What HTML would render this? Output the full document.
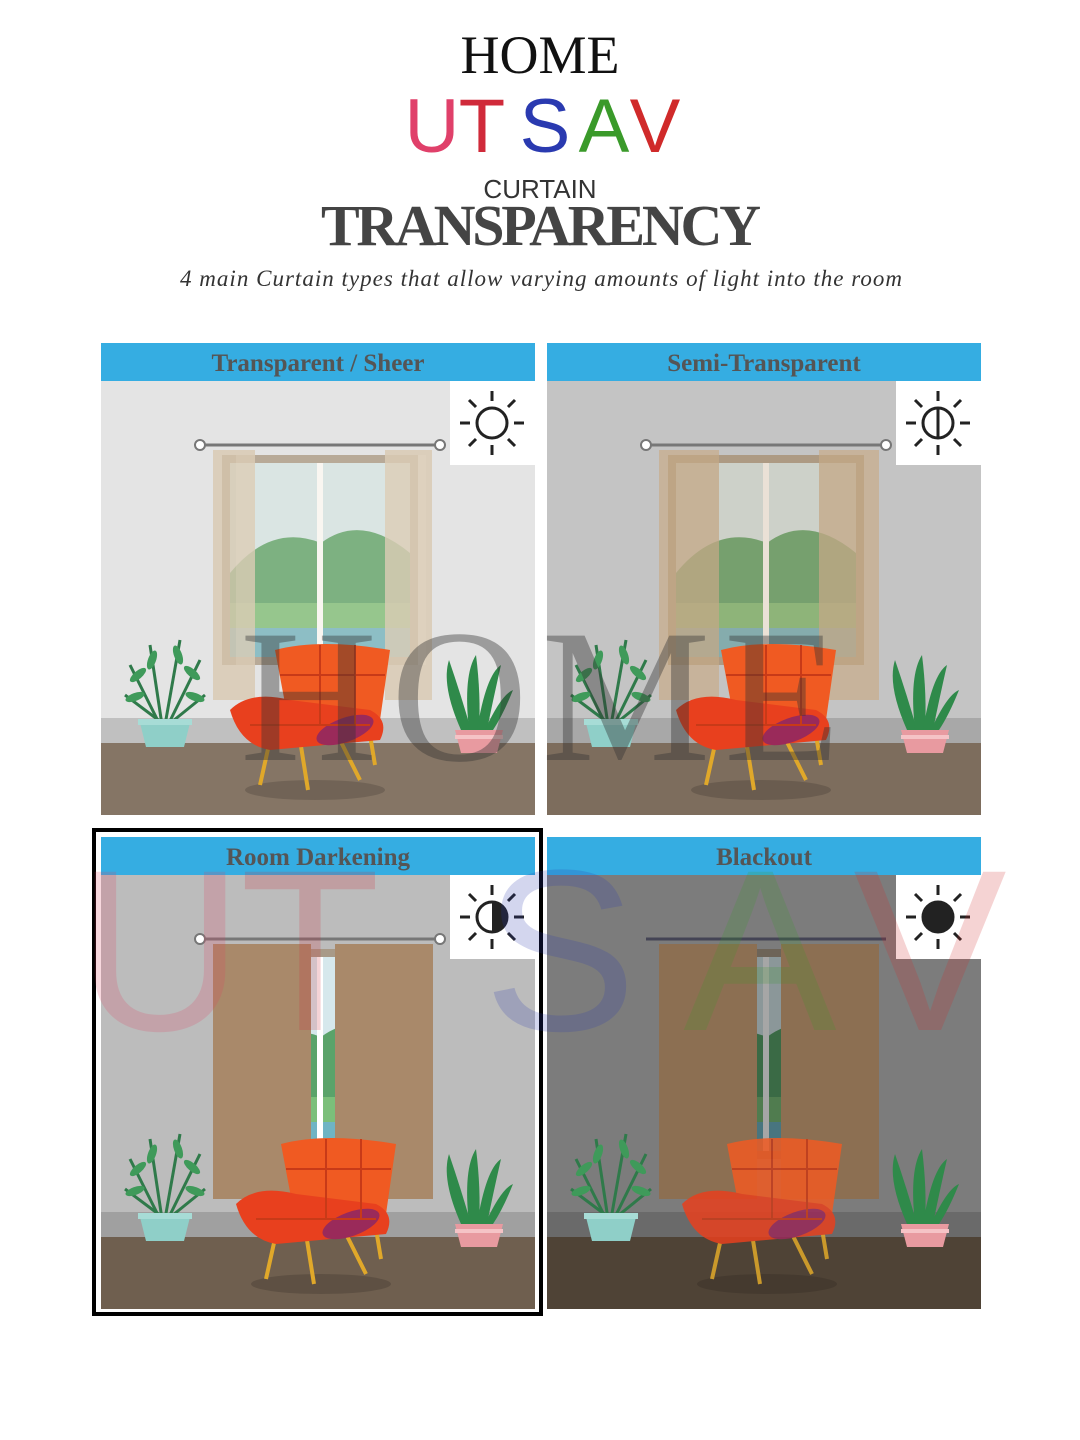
<!DOCTYPE html>
<html><head><meta charset="utf-8"><style>
html,body{margin:0;padding:0;background:#fff;}
body{width:1080px;height:1440px;overflow:hidden;position:relative;}
svg{position:absolute;left:0;top:0;}
</style></head><body>
<svg width="1080" height="1440" viewBox="0 0 1080 1440" xmlns="http://www.w3.org/2000/svg">
<defs>
<g id="plantL">
  <g stroke="#2f7a4a" stroke-width="3" fill="none">
    <path d="M40 90 L10 30"/><path d="M42 90 L30 10"/><path d="M45 90 L60 5"/><path d="M48 90 L80 25"/><path d="M45 90 L5 60"/><path d="M48 90 L85 60"/>
  </g>
  <g fill="#3f9a5a">
    <ellipse cx="18" cy="40" rx="10" ry="4" transform="rotate(-40 18 40)"/><ellipse cx="32" cy="25" rx="10" ry="4" transform="rotate(-70 32 25)"/>
    <ellipse cx="58" cy="20" rx="10" ry="4" transform="rotate(70 58 20)"/><ellipse cx="72" cy="38" rx="10" ry="4" transform="rotate(40 72 38)"/>
    <ellipse cx="15" cy="62" rx="10" ry="4" transform="rotate(-20 15 62)"/><ellipse cx="75" cy="62" rx="10" ry="4" transform="rotate(20 75 62)"/>
  </g>
  <path d="M20 88 H70 L64 112 H26 Z" fill="#8fcfc8"/>
  <rect x="18" y="84" width="54" height="6" fill="#a7dcd6"/>
</g>
<g id="plantR">
  <g fill="#2f8a4a">
    <path d="M20 75 Q0 30 8 5 Q20 40 30 75Z"/><path d="M28 75 Q22 20 35 0 Q40 40 38 75Z"/>
    <path d="M36 75 Q45 20 60 10 Q52 45 46 75Z"/><path d="M44 75 Q60 40 72 35 Q62 60 52 75Z"/>
  </g>
  <path d="M14 75 H62 L56 98 H20 Z" fill="#e89aa0"/>
  <rect x="14" y="80" width="48" height="4" fill="#f5c3c6"/>
</g>
<g id="chair">
  <ellipse cx="85" cy="150" rx="70" ry="10" fill="#000" opacity="0.15"/>
  <g stroke="#e0a82a" stroke-width="4"><line x1="40" y1="100" x2="30" y2="145"/><line x1="70" y1="100" x2="78" y2="150"/><line x1="110" y1="100" x2="130" y2="140"/><line x1="140" y1="95" x2="145" y2="125"/></g>
  <path d="M45 10 Q90 -2 160 10 L150 80 Q130 100 120 95 L60 90 Z" fill="#f05a22"/>
  <path d="M0 70 Q20 50 60 60 L140 70 Q160 80 150 100 L40 110 Q10 105 0 70Z" fill="#e8401e"/>
  <ellipse cx="115" cy="90" rx="30" ry="12" fill="#9a2a5a" transform="rotate(-20 115 90)"/>
  <g stroke="#c83a18" stroke-width="2" fill="none"><path d="M50 35 H155"/><path d="M90 5 V85"/><path d="M125 5 V85"/><path d="M20 85 H140"/></g>
</g>
<g id="scene">
  <rect x="121" y="112" width="196" height="210" fill="#a89a88"/>
  <rect x="129" y="120" width="180" height="194" fill="#d6e8ec"/>
  <path d="M129 230 Q170 180 220 200 Q260 170 309 210 V314 H129Z" fill="#5aa36a"/>
  <rect x="129" y="260" width="180" height="54" fill="#7bbf7a"/>
  <rect x="129" y="285" width="180" height="29" fill="#6fb4c4"/>
  <rect x="216" y="120" width="6" height="194" fill="#fff"/>
</g>
<g id="sun"><circle cx="0" cy="0" r="15" fill="none" stroke="#222" stroke-width="3"/>
 <g stroke="#222" stroke-width="3"><line x1="0" y1="-22" x2="0" y2="-32"/><line x1="0" y1="22" x2="0" y2="32"/><line x1="-22" y1="0" x2="-32" y2="0"/><line x1="22" y1="0" x2="32" y2="0"/><line x1="16" y1="16" x2="23" y2="23"/><line x1="-16" y1="-16" x2="-23" y2="-23"/><line x1="16" y1="-16" x2="23" y2="-23"/><line x1="-16" y1="16" x2="-23" y2="23"/></g></g>
</defs>

<text x="540" y="73" text-anchor="middle" font-family="Liberation Serif,serif" font-size="54" fill="#111">HOME</text>
<g font-family="Liberation Sans,sans-serif" font-size="76" text-anchor="middle">
<text x="432" y="152" fill="#e0406a">U</text><text x="482" y="152" fill="#d02a3a">T</text><text x="545" y="152" fill="#2a3ab0">S</text><text x="604" y="152" fill="#3a9a2a">A</text><text x="655" y="152" fill="#d02a2a">V</text></g>
<text x="540" y="198" text-anchor="middle" font-family="Liberation Sans,sans-serif" font-size="26" fill="#333">CURTAIN</text>
<text x="541" y="245" text-anchor="middle" font-family="Liberation Serif,serif" font-weight="bold" font-size="58" fill="#444" textLength="440">TRANSPARENCY</text>
<text x="541" y="286" text-anchor="middle" font-family="Liberation Serif,serif" font-style="italic" font-size="23" fill="#333" textLength="722">4 main Curtain types that allow varying amounts of light into the room</text>

<!-- Panel 1 -->
<g transform="translate(101,343)">
 <rect width="434" height="472" fill="#e4e4e4"/>
 <rect y="375" width="434" height="27" fill="#c0c0c0"/><rect y="400" width="434" height="72" fill="#857565"/>
 <use href="#scene"/>
 <rect x="112" y="107" width="42" height="250" fill="#d8c8b0" opacity="0.8"/><rect x="284" y="107" width="47" height="250" fill="#d8c8b0" opacity="0.8"/>
 <rect x="135" y="112" width="190" height="210" fill="#e8dcc8" opacity="0.25"/>
 <line x1="99" y1="102" x2="339" y2="102" stroke="#777" stroke-width="3"/><circle cx="99" cy="102" r="5" fill="#fff" stroke="#777" stroke-width="2"/><circle cx="339" cy="102" r="5" fill="#fff" stroke="#777" stroke-width="2"/>
 <use href="#chair" transform="translate(129,297)"/>
 <use href="#plantL" transform="translate(19,292)"/><use href="#plantR" transform="translate(340,312)"/>
 <rect width="434" height="38" fill="#35ade2"/>
 <rect x="349" y="38" width="85" height="84" fill="#fff"/><use href="#sun" transform="translate(391,80)"/>
</g>
<!-- Panel 2 -->
<g transform="translate(547,343)">
 <rect width="434" height="472" fill="#c4c4c4"/>
 <rect y="375" width="434" height="27" fill="#a8a8a8"/><rect y="400" width="434" height="72" fill="#7d6d5d"/>
 <use href="#scene"/>
 <rect x="112" y="107" width="60" height="250" fill="#c8ae8e" opacity="0.75"/><rect x="272" y="107" width="60" height="250" fill="#c8ae8e" opacity="0.75"/>
 <rect x="121" y="112" width="196" height="210" fill="#b89a78" opacity="0.3"/>
 <line x1="99" y1="102" x2="339" y2="102" stroke="#777" stroke-width="3"/><circle cx="99" cy="102" r="5" fill="#fff" stroke="#777" stroke-width="2"/><circle cx="339" cy="102" r="5" fill="#fff" stroke="#777" stroke-width="2"/>
 <use href="#chair" transform="translate(129,297)"/>
 <use href="#plantL" transform="translate(19,292)"/><use href="#plantR" transform="translate(340,312)"/>
 <rect width="434" height="38" fill="#35ade2"/>
 <rect x="349" y="38" width="85" height="84" fill="#fff"/><use href="#sun" transform="translate(391,80)"/><line x1="391" y1="65" x2="391" y2="95" stroke="#222" stroke-width="3"/>
</g>
<!-- Panel 3 -->
<g transform="translate(101,837)">
 <rect width="434" height="472" fill="#bcbcbc"/>
 <rect y="375" width="434" height="27" fill="#a0a0a0"/><rect y="400" width="434" height="72" fill="#6f5f4f"/>
 <use href="#scene"/>
 <rect x="112" y="107" width="98" height="255" fill="#a9896a"/><rect x="234" y="107" width="98" height="255" fill="#a9896a"/>
 <line x1="99" y1="102" x2="339" y2="102" stroke="#777" stroke-width="3"/><circle cx="99" cy="102" r="5" fill="#fff" stroke="#777" stroke-width="2"/><circle cx="339" cy="102" r="5" fill="#fff" stroke="#777" stroke-width="2"/>
 <use href="#chair" transform="translate(135,297)"/>
 <use href="#plantL" transform="translate(19,292)"/><use href="#plantR" transform="translate(340,312)"/>
 <rect width="434" height="38" fill="#35ade2"/>
 <rect x="349" y="38" width="85" height="84" fill="#fff"/><use href="#sun" transform="translate(391,80)"/><path d="M391 65 A15 15 0 0 1 391 95Z" fill="#222"/>
</g>
<!-- Panel 4 -->
<g transform="translate(547,837)">
 <rect width="434" height="472" fill="#7c7c7c"/>
 <rect y="375" width="434" height="27" fill="#6a6a6a"/><rect y="400" width="434" height="72" fill="#4f4336"/>
 <use href="#scene"/>
 <rect x="121" y="112" width="196" height="210" fill="#000" opacity="0.35"/>
 <rect x="112" y="107" width="98" height="255" fill="#8c6f52"/><rect x="234" y="107" width="98" height="255" fill="#8c6f52"/>
 <line x1="99" y1="102" x2="339" y2="102" stroke="#445" stroke-width="3"/>
 <use href="#chair" transform="translate(135,297)" opacity="0.85"/>
 <use href="#plantL" transform="translate(19,292)"/><use href="#plantR" transform="translate(340,312)"/>
 <rect width="434" height="38" fill="#35ade2"/>
 <rect x="349" y="38" width="85" height="84" fill="#fff"/><use href="#sun" transform="translate(391,80)"/><circle cx="391" cy="80" r="15" fill="#222"/>
</g>
<g font-family="Liberation Serif,serif" font-size="25" font-weight="bold" fill="#555" text-anchor="middle">
<text x="318" y="371">Transparent / Sheer</text><text x="764" y="371">Semi-Transparent</text>
<text x="318" y="865">Room Darkening</text><text x="764" y="865">Blackout</text></g>
<rect x="94" y="830" width="447" height="484" fill="none" stroke="#000" stroke-width="4"/>
<text x="540" y="760" text-anchor="middle" font-family="Liberation Serif,serif" font-size="190" fill="#333" opacity="0.4" textLength="600">HOME</text>
<g font-family="Liberation Sans,sans-serif" font-size="230" text-anchor="middle" opacity="0.2">
<text x="160" y="1030" fill="#e04060">U</text><text x="310" y="1030" fill="#d02a3a">T</text><text x="560" y="1030" fill="#2a3ab0">S</text><text x="760" y="1030" fill="#3a9a2a">A</text><text x="930" y="1030" fill="#d02a2a">V</text></g>
</svg>
</body></html>
